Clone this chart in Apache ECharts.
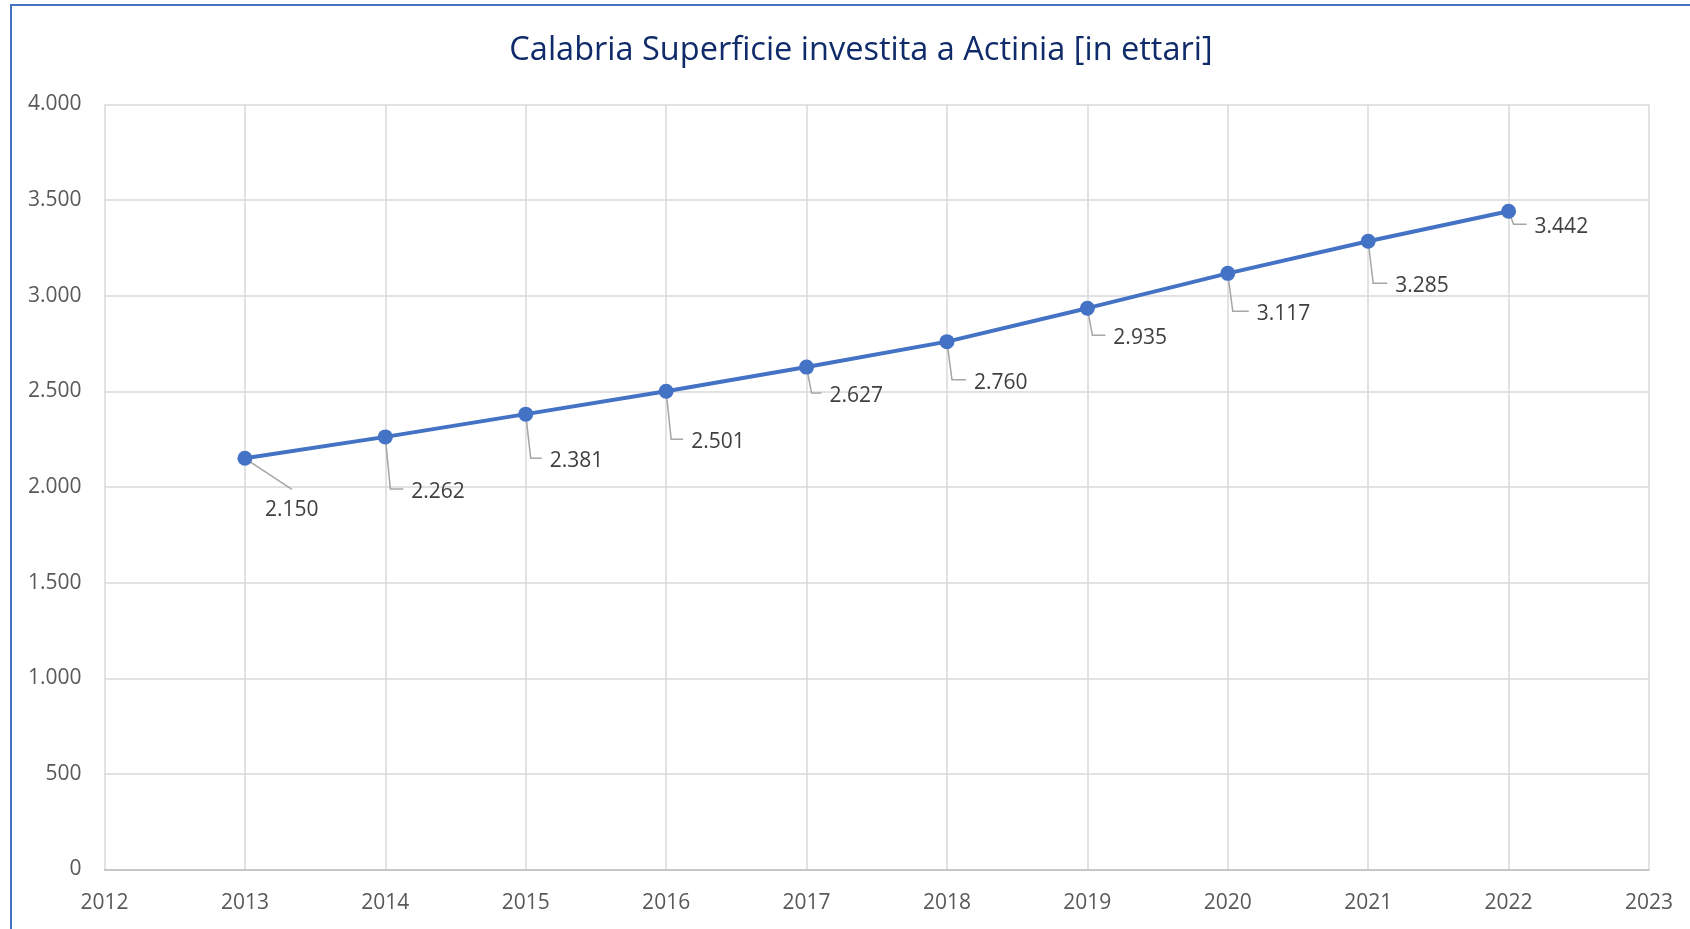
<!DOCTYPE html>
<html>
<head>
<meta charset="utf-8">
<script src="https://cdn.jsdelivr.net/npm/echarts@6/dist/echarts.min.js"></script>
<style>
  html, body { margin: 0; padding: 0; background: #fff; }
  #frame { position: absolute; left: 10px; top: 4px; width: 1700px; height: 940px; border-left: 2px solid #4472C4; border-top: 2px solid #4472C4; box-sizing: border-box; }
  #chart { position: absolute; left: 0; top: 0; width: 1690px; height: 929px; }
</style>
</head>
<body>
<div id="frame"></div>
<div id="chart"></div>
<script>
const titleText = 'Calabria Superficie investita a Actinia [in ettari]';
const years = [2013, 2014, 2015, 2016, 2017, 2018, 2019, 2020, 2021, 2022];
const values = [2150, 2262, 2381, 2501, 2627, 2760, 2935, 3117, 3285, 3442];
const xAxisRange = [2012, 2023];
const yAxisRange = [0, 4000];
const yTickStep = 500;

// label placement (layout only): offset of label's left edge / vertical centre from each point
const labelDx = [20, 26, 24, 25, 23, 27, 26, 29, 27, 26];
const labelDy = [52, 55, 47, 51, 29, 41, 30, 41, 45, 16];
// leader line style per label: 'top' = straight to label top, 'elbow' = down then across
const leaderKind = ['top', 'elbow', 'elbow', 'elbow', 'elbow', 'elbow', 'elbow', 'elbow', 'elbow', 'elbow'];

function fmtIt(v) {
  return String(v).replace(/\B(?=(\d{3})+(?!\d))/g, '.');
}

const FONT = 'Open Sans';
const chart = echarts.init(document.getElementById('chart'), null, { renderer: 'canvas' });
chart.setOption({
  backgroundColor: 'transparent',
  animation: false,
  title: {
    text: titleText,
    left: 856, top: 29, textAlign: 'center',
    textStyle: { fontFamily: FONT, fontSize: 32.5, fontWeight: 'normal', color: '#0F2B6A' }
  },
  grid: { left: 104.5, right: 41, top: 104.5, bottom: 59.5, containLabel: false },
  xAxis: {
    type: 'value', min: xAxisRange[0], max: xAxisRange[1], interval: 1,
    axisLine: { show: true, lineStyle: { color: '#BFBFBF', width: 1.5 } },
    axisTick: { show: false },
    splitLine: { show: true, lineStyle: { color: '#D9D9D9', width: 1.5 } },
    axisLabel: { fontFamily: FONT, fontSize: 21, color: '#595959', margin: 23, formatter: v => String(v) }
  },
  yAxis: {
    type: 'value', min: yAxisRange[0], max: yAxisRange[1], interval: yTickStep,
    axisLine: { show: false },
    axisTick: { show: false },
    splitLine: { show: true, lineStyle: { color: '#D9D9D9', width: 1.5 } },
    axisLabel: { fontFamily: FONT, fontSize: 21, color: '#595959', margin: 23, padding: [4, 0, 0, 0], formatter: v => fmtIt(v) }
  },
  series: [{
    type: 'custom',
    silent: true,
    data: years.map((y, i) => [y, values[i]]),
    renderItem: function (params, api) {
      const i = params.dataIndex;
      const p = api.coord([api.value(0), api.value(1)]);
      let pts;
      if (leaderKind[i] === 'top') {
        pts = [p, [p[0] + labelDx[i] + 27, p[1] + labelDy[i] - 21]];
      } else {
        const yb = p[1] + labelDy[i] - 3;
        pts = [p, [p[0] + 5, yb], [p[0] + labelDx[i] - 8, yb]];
      }
      return {
        type: 'polyline',
        shape: { points: pts },
        style: { stroke: '#A6A6A6', lineWidth: 1.5, fill: null }
      };
    }
  }, {
    type: 'line',
    data: years.map((y, i) => [y, values[i]]),
    symbol: 'circle', symbolSize: 15,
    itemStyle: { color: '#4472C4' },
    lineStyle: { color: '#4472C4', width: 4 },
    label: {
      show: true, position: 'right', fontFamily: FONT, fontSize: 21, color: '#404040',
      formatter: p => fmtIt(p.value[1])
    },
    labelLayout: function (p) {
      const cx = p.rect.x + p.rect.width / 2;
      const cy = p.rect.y + p.rect.height / 2;
      return {
        x: cx + labelDx[p.dataIndex],
        y: cy + labelDy[p.dataIndex],
        align: 'left', verticalAlign: 'middle'
      };
    }
  }]
});
</script>
</body>
</html>
